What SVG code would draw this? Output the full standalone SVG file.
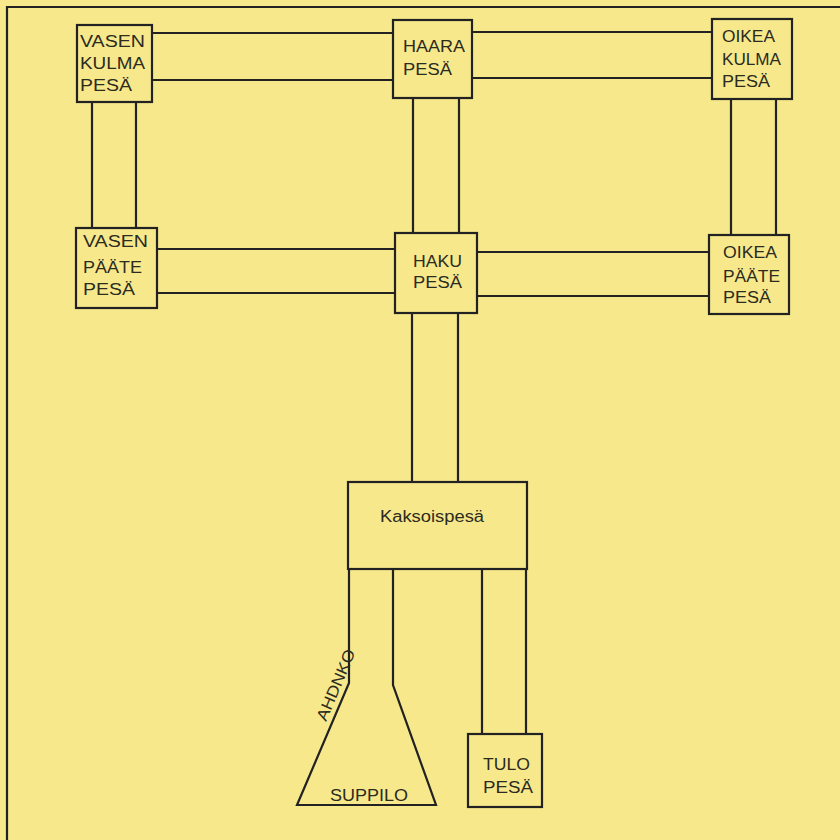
<svg xmlns="http://www.w3.org/2000/svg" width="840" height="840" viewBox="0 0 840 840">
<style>
.bg{fill:#F7E88C}
.box{fill:#F7E88C;stroke:#222;stroke-width:2.2}
.ln{fill:none;stroke:#222;stroke-width:2.2}
text{font-family:"Liberation Sans",Arial,sans-serif;font-size:16px;fill:#2b2b1e}
</style>
<rect class="bg" x="0" y="0" width="840" height="840"/>
<path class="ln" d="M7,840 V7 H840"/>
<g id="connectors">
<path class="ln" d="M152,33 H393 M152,80 H393"/>
<path class="ln" d="M472,32 H712 M472,78 H712"/>
<path class="ln" d="M92,102 V228 M136,102 V228"/>
<path class="ln" d="M413,98 V233 M459,98 V233"/>
<path class="ln" d="M731,99 V235 M776,99 V235"/>
<path class="ln" d="M157,249 H395 M157,293 H395"/>
<path class="ln" d="M477,252 H709 M477,296 H709"/>
<path class="ln" d="M412,313 V482 M458,313 V482"/>
<path class="ln" d="M482,569 V734 M526,569 V734"/>
</g>
<g id="vasen-kulma">
<rect class="box" x="77" y="25" width="75" height="77"/>
<text x="80" y="47" textLength="65" lengthAdjust="spacingAndGlyphs">VASEN</text>
<text x="80" y="69" textLength="65" lengthAdjust="spacingAndGlyphs">KULMA</text>
<text x="80" y="91" textLength="52" lengthAdjust="spacingAndGlyphs">PESÄ</text>
</g>
<g id="haara">
<rect class="box" x="393" y="20" width="79" height="78"/>
<text x="403" y="52" textLength="62" lengthAdjust="spacingAndGlyphs">HAARA</text>
<text x="403" y="75" textLength="49" lengthAdjust="spacingAndGlyphs">PESÄ</text>
</g>
<g id="oikea-kulma">
<rect class="box" x="712" y="19" width="80" height="80"/>
<text x="722" y="42" textLength="53" lengthAdjust="spacingAndGlyphs">OIKEA</text>
<text x="722" y="65" textLength="59" lengthAdjust="spacingAndGlyphs">KULMA</text>
<text x="722" y="87" textLength="48" lengthAdjust="spacingAndGlyphs">PESÄ</text>
</g>
<g id="vasen-paate">
<rect class="box" x="76" y="228" width="81" height="80"/>
<text x="83" y="247" textLength="65" lengthAdjust="spacingAndGlyphs">VASEN</text>
<text x="83" y="273" textLength="59" lengthAdjust="spacingAndGlyphs">PÄÄTE</text>
<text x="83" y="295" textLength="52" lengthAdjust="spacingAndGlyphs">PESÄ</text>
</g>
<g id="haku">
<rect class="box" x="395" y="233" width="82" height="80"/>
<text x="413" y="267" textLength="49" lengthAdjust="spacingAndGlyphs">HAKU</text>
<text x="413" y="288" textLength="49" lengthAdjust="spacingAndGlyphs">PESÄ</text>
</g>
<g id="oikea-paate">
<rect class="box" x="709" y="235" width="80" height="79"/>
<text x="723" y="258" textLength="54" lengthAdjust="spacingAndGlyphs">OIKEA</text>
<text x="723" y="282" textLength="57" lengthAdjust="spacingAndGlyphs">PÄÄTE</text>
<text x="723" y="303" textLength="48" lengthAdjust="spacingAndGlyphs">PESÄ</text>
</g>
<g id="kaksoispesa">
<rect class="box" x="348" y="482" width="179" height="87"/>
<text x="380" y="522" textLength="104" lengthAdjust="spacingAndGlyphs">Kaksoispesä</text>
</g>
<g id="suppilo">
<path class="ln" d="M349,569 V683 L297,805 H436 L393,685 V569"/>
<text x="369" y="801" text-anchor="middle" textLength="78" lengthAdjust="spacingAndGlyphs">SUPPILO</text>
<text transform="translate(326,722) rotate(-67)" font-size="15" textLength="76" lengthAdjust="spacingAndGlyphs">AHDNKO</text>
</g>
<g id="tulo">
<rect class="box" x="468" y="734" width="74" height="73"/>
<text x="483" y="770" textLength="47" lengthAdjust="spacingAndGlyphs">TULO</text>
<text x="483" y="793" textLength="50" lengthAdjust="spacingAndGlyphs">PESÄ</text>
</g>
</svg>
